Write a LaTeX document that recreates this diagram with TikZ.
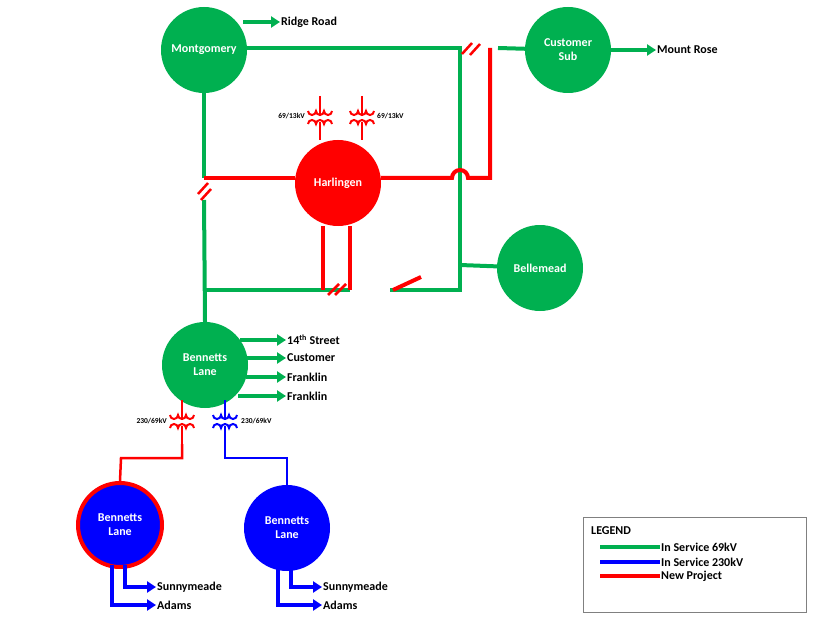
\documentclass[tikz,border=0pt]{standalone}
\usepackage{fontspec}
\setmainfont{Carlito}
\usetikzlibrary{arrows.meta}
\definecolor{lgreen}{HTML}{00B050}
\definecolor{lred}{HTML}{FF0000}
\definecolor{lblue}{HTML}{0000FF}
\tikzset{
  bus/.style={circle, fill=#1, minimum size=86pt, inner sep=0pt, text=white, font=\bfseries\fontsize{12}{14}\selectfont, align=center},
  line/.style={draw=#1, line width=4pt},
  feed/.style={draw=#1, line width=4pt, -{Triangle[width=11pt,length=9pt]}},
  lbl/.style={font=\bfseries\fontsize{12}{14}\selectfont, anchor=west, inner sep=1pt},
  kv/.style={font=\bfseries\fontsize{7.5}{9}\selectfont, inner sep=1pt},
  brk/.style={draw=lred, line width=2.5pt},
}
\newcommand{\xfmr}[3]{%
  \draw[#3, line width=2pt] (#1,#2-22) -- (#1,#2-4) (#1,#2+4) -- (#1,#2+22);
  \draw[#3, line width=2pt] (#1-12,#2-7) arc[start angle=180,end angle=0,radius=4]
    arc[start angle=180,end angle=0,radius=4] arc[start angle=180,end angle=0,radius=4];
  \draw[#3, line width=2pt] (#1-12,#2+6) arc[start angle=180,end angle=360,radius=4]
    arc[start angle=180,end angle=360,radius=4] arc[start angle=180,end angle=360,radius=4];
}
\begin{document}
\begin{tikzpicture}[x=1pt, y=-1pt]
  \useasboundingbox (0,0) rectangle (826,620);
  % buses
  \node[bus=lgreen] (mont) at (204,50) {Montgomery};
  \node[bus=lgreen] (csub) at (568,50) {Customer\\Sub};
  \node[bus=lred] (harl) at (338,183) {Harlingen};
  \node[bus=lgreen] (bell) at (540,268) {Bellemead};
  \node[bus=lgreen] (bl69) at (205,365) {Bennetts\\Lane};
  \node[bus=lblue, draw=lred, line width=4pt, minimum size=84pt] (bla) at (120,525) {Bennetts\\Lane};
  \node[bus=lblue] (blb) at (287,528) {Bennetts\\Lane};
  % corner points
  \coordinate (tr) at (460,48);
  \coordinate (br) at (460,290);
  \coordinate (bl) at (204,290);
  \coordinate (hump) at (452,178);
  \coordinate (rup) at (490,178);
  \coordinate (rtop) at (490,48);
  % 69kV lines
  \draw[line=lgreen] (mont.east |- tr) -- (tr) -- (br) -- (390,290);
  \draw[line=lgreen] (br) -- (430,290);
  \draw[line=lgreen] (460,265) -- (bell);
  \draw[line=lgreen] (498,48) -- (csub);
  \draw[line=lgreen] (mont.south) -- (204,178);
  \draw[line=lgreen] (204,200) -- (bl69.north);
  \draw[line=lgreen] (bl) -- (350,290);
  % new project
  \draw[line=lred] (204,178) -- (harl.west |- 0,178);
  \draw[line=lred] (harl.east |- 0,178) -- (hump) arc[start angle=180,end angle=360,radius=8] -- (rup) -- (rtop);
  \draw[line=lred] (harl.south -| 323,0) -- (323,290);
  \draw[line=lred] (harl.south -| 350,0) -- (350,290);
  \draw[line=lred] (393,290) -- (421,277);
  \draw[brk] (198,194) -- (208,183) (201,200) -- (211,189);
  \draw[brk] (328,295) -- (339,284) (335,295) -- (346,284);
  \draw[brk] (462,54) -- (472,43) (470,55) -- (480,44);
  % harlingen transformers
  \xfmr{320}{118}{lred}
  \xfmr{362}{118}{lred}
  \node[kv, anchor=east] (t1) at (306,116) {69/13kV};
  \node[kv, anchor=west] (t2) at (376,116) {69/13kV};
  % feeders
  \node[lbl] (ridge) at (280,22) {Ridge Road};
  \draw[feed=lgreen] (243,22) -- (ridge.west);
  \node[lbl] (mrose) at (656,50) {Mount Rose};
  \draw[feed=lgreen] (611,50) -- (mrose.west);
  \node[lbl] (st14) at (286,340) {14\textsuperscript{th} Street};
  \node[lbl] (cust) at (286,358) {Customer};
  \node[lbl] (fr1) at (286,377) {Franklin};
  \node[lbl] (fr2) at (286,396) {Franklin};
  \draw[feed=lgreen] (240,340) -- (st14.west);
  \draw[feed=lgreen] (246,358) -- (cust.west);
  \draw[feed=lgreen] (246,377) -- (fr1.west);
  \draw[feed=lgreen] (238,396) -- (fr2.west);
  % 230/69kV transformers
  \xfmr{182}{422}{lred}
  \xfmr{225}{422}{lblue}
  \node[kv, anchor=east] (t3) at (168,421) {230/69kV};
  \node[kv, anchor=west] (t4) at (240,421) {230/69kV};
  \draw[draw=lred, line width=2.5pt] (182,444) -- (182,458) -- (121,458) -- (bla.north);
  \draw[draw=lblue, line width=2.5pt] (225,444) -- (225,458) -- (287,458) -- (blb.north);
  % 230kV feeders
  \node[lbl] (sa) at (156,587) {Sunnymeade};
  \node[lbl] (aa) at (156,605) {Adams};
  \draw[feed=lblue] (125,565) -- (125,587) -- (sa.west);
  \draw[feed=lblue] (112,565) -- (112,605) -- (aa.west);
  \node[lbl] (sb) at (322,587) {Sunnymeade};
  \node[lbl] (ab) at (322,605) {Adams};
  \draw[feed=lblue] (291,568) -- (291,587) -- (sb.west);
  \draw[feed=lblue] (278,568) -- (278,605) -- (ab.west);
  % legend
  \node[draw=gray, line width=1pt, minimum width=223pt, minimum height=95pt, anchor=north west] (leg) at (583,517) {};
  \node[lbl] (legt) at (590,531) {LEGEND};
  \node[lbl] (l1) at (660,547) {In Service 69kV};
  \node[lbl] (l2) at (660,562) {In Service 230kV};
  \node[lbl] (l3) at (660,576) {New Project};
  \draw[line=lgreen] (600,547) -- (l1.west);
  \draw[line=lblue] (600,562) -- (l2.west);
  \draw[line=lred] (600,576) -- (l3.west);
\end{tikzpicture}
\end{document}
